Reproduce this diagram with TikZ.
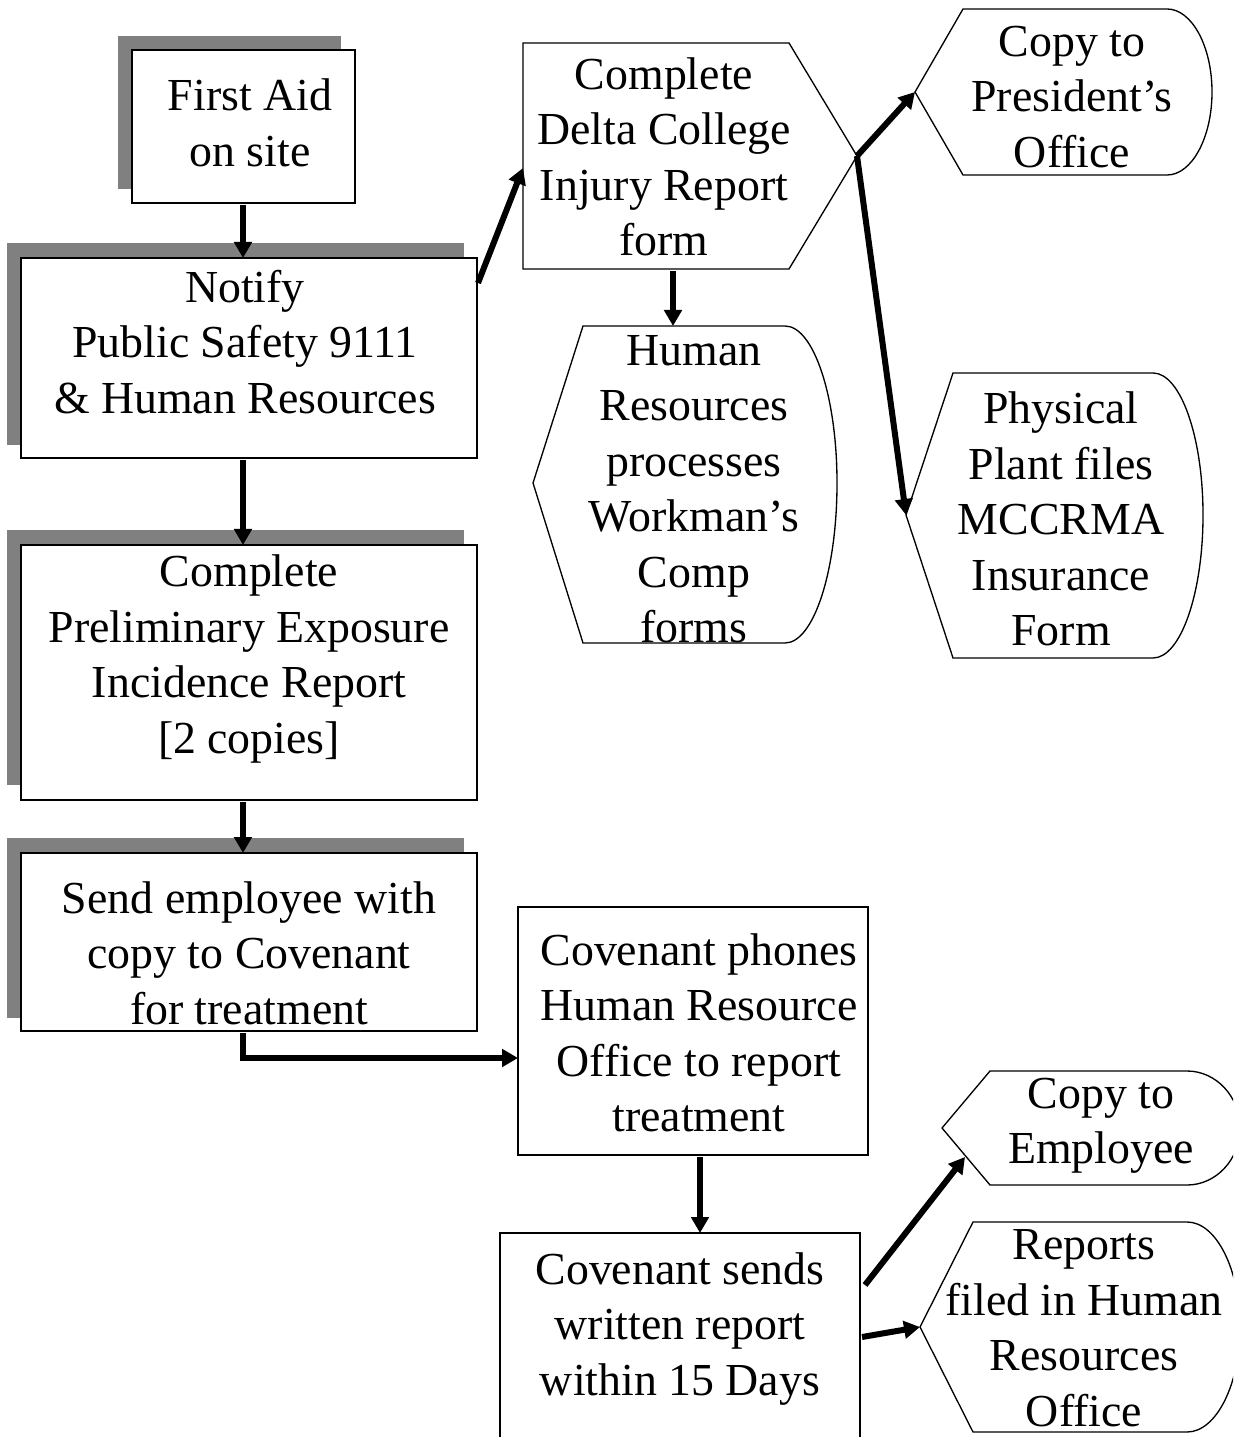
\documentclass[tikz,border=0pt]{standalone}
\usepackage{fontspec}
\setmainfont{Liberation Serif}
\usetikzlibrary{arrows.meta}
\definecolor{shadowgray}{HTML}{808080}
\tikzset{
  box/.style={draw=black, fill=white, line width=0.4pt},
  shadowbox/.style={fill=shadowgray, draw=none},
  lbl/.style={align=center, inner sep=0pt, font=\fontsize{13.75}{16.65}\selectfont},
  conn/.style={line width=1.8pt, -{Triangle[length=4.8pt,width=5.2pt]}},
}
\newcommand{\dispshape}[7]{%
  \draw[box] (#3,#4) -- (#6,#4)
    .. controls ({#6+0.55*(#7-#6)},#4) and (#7,{#2-0.55*(#2-#4)}) .. (#7,#2)
    .. controls (#7,{#2+0.55*(#5-#2)}) and ({#6+0.55*(#7-#6)},#5) .. (#6,#5)
    -- (#3,#5) -- (#1,#2) -- cycle;}
\begin{document}
\begin{tikzpicture}[x=0.3pt,y=-0.3pt]
\useasboundingbox (0,0) rectangle (1233,1437);
\clip (0,0) rectangle (1233,1437);
\fill[white] (0,0) rectangle (1233,1437);

% left column boxes with shadows
\fill[shadowbox] (118,36) rectangle (341,189);
\draw[box] (132,50) rectangle (355,203);
\fill[shadowbox] (7,243) rectangle (464,445);
\draw[box] (21,258) rectangle (477,458);
\fill[shadowbox] (7,530) rectangle (464,785);
\draw[box] (21,545) rectangle (477,800);
\fill[shadowbox] (7,838) rectangle (464,1018);
\draw[box] (21,853) rectangle (477,1031);

% middle boxes
\draw[box] (523,43) -- (789,43) -- (857,156) -- (789,269) -- (523,269) -- cycle;
\dispshape{533}{483}{583}{326}{643}{785}{837}
\draw[box] (518,907) rectangle (868,1155);
\draw[box] (500,1233) rectangle (860,1450);

% right shapes
\dispshape{915}{92}{963}{9}{175}{1167}{1212}
\dispshape{906}{515}{953}{373}{658}{1153}{1203}
\dispshape{942}{1128}{990}{1071}{1185}{1187}{1240}
\dispshape{920}{1327}{973}{1222}{1432}{1187}{1240}

% texts
\node[lbl] (fa) at (250,123) {First Aid\\ on site};
\node[lbl] (notify) at (245,342) {Notify\\ Public Safety 9111\\ \& Human Resources};
\node[lbl] (prelim) at (249,659) {Complete\\ Preliminary Exposure\\ Incidence Report\\ {[2 copies]}};
\node[lbl] (send) at (249,953) {Send employee with\\ copy to Covenant\\ for treatment};
\node[lbl] (injury) at (664,157) {Complete\\ Delta College\\ Injury Report\\ form};
\node[lbl] (hr) at (694,489) {Human\\ Resources\\ processes\\ Workman’s\\ Comp\\ forms};
\node[lbl] (pres) at (1072,97) {Copy to\\ President’s\\ Office};
\node[lbl] (plant) at (1061,519) {Physical\\ Plant files\\ MCCRMA\\ Insurance\\ Form};
\node[lbl] (covph) at (699,1033) {Covenant phones\\ Human Resource\\ Office to report\\ treatment};
\node[lbl] (covsd) at (680,1329) {Covenant sends\\ written report\\ within 15 Days};
\node[lbl] (emp) at (1101,1126) {Copy to\\ Employee};
\node[lbl] (reports) at (1084,1328) {Reports\\ filed in Human\\ Resources\\ Office};

% connection points
\coordinate (faS) at (243,205);
\coordinate (notN) at (243,258);
\coordinate (notS) at (243,460);
\coordinate (notE) at (478,283);
\coordinate (preN) at (243,545);
\coordinate (preS) at (243,802);
\coordinate (sndN) at (243,853);
\coordinate (sndS) at (243,1033);
\coordinate (bend) at (243,1058);
\coordinate (cphW) at (518,1058);
\coordinate (cphS) at (700,1157);
\coordinate (csdN) at (700,1233);
\coordinate (csdE1) at (865,1285);
\coordinate (csdE2) at (862,1337);
\coordinate (injW) at (523,168);
\coordinate (injS) at (673,271);
\coordinate (injE) at (857,156);
\coordinate (hrN) at (673,326);
\coordinate (presW) at (915,92);
\coordinate (plantW) at (906,515);
\coordinate (empW) at (965,1157);
\coordinate (repW) at (920,1327);

% connectors
\draw[conn] (faS) -- (notN);
\draw[conn] (notS) -- (preN);
\draw[conn] (preS) -- (sndN);
\draw[conn] (sndS) -- (bend) -- (cphW);
\draw[conn] (notE) -- (injW);
\draw[conn] (injS) -- (hrN);
\draw[conn] (injE) -- (presW);
\draw[conn] (injE) -- (plantW);
\draw[conn] (cphS) -- (csdN);
\draw[conn] (csdE1) -- (empW);
\draw[conn] (csdE2) -- (repW);
\end{tikzpicture}
\end{document}
